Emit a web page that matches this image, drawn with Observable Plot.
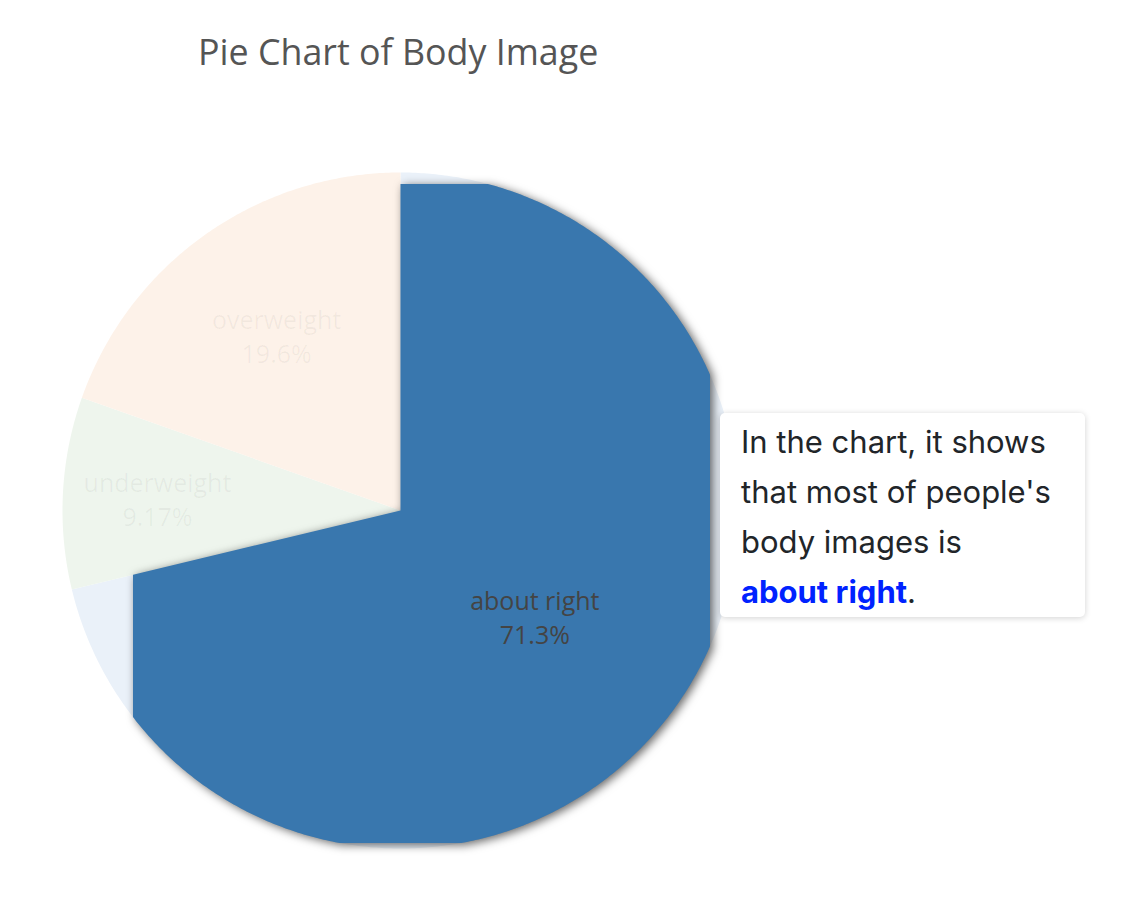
<!DOCTYPE html>
<html><head><meta charset="utf-8">
<script src="https://cdn.jsdelivr.net/npm/d3@7"></script>
<script src="https://cdn.jsdelivr.net/npm/@observablehq/plot@0.6"></script>
<style>
body{margin:0;background:#fff;width:1124px;height:904px;overflow:hidden;position:relative;}
#title{position:absolute;left:198px;top:34px;font-family:"Open Sans";font-size:35.8px;color:#555;line-height:35px;white-space:nowrap}
.layer{position:absolute;left:0;top:0}
#hl svg{filter:drop-shadow(3px 2px 5px rgba(0,0,0,0.6));}
#note{position:absolute;left:720px;top:413px;width:365px;height:204px;box-sizing:border-box;padding:4px 8px 0 21px;background:#fff;border-radius:5px;box-shadow:0 1px 6px rgba(0,0,0,0.18);font-family:Inter;font-size:31px;line-height:50px;color:#212529}
#note b{color:#0022ff;font-weight:700}
.nw{white-space:nowrap}
</style></head>
<body>
<div id="title">Pie Chart of Body Image</div>
<div id="base" class="layer"></div>
<div id="hl" class="layer"></div>
<div id="lab" class="layer"></div>
<div id="note">In the chart, it shows that most of people's body images is <span class="nw"><b>about right</b>.</span></div>
<script>
// ---- data ----
const categories = ["about right", "underweight", "overweight"];
const percents = [71.3, 9.17, 19.6];
const percentLabels = ["71.3%", "9.17%", "19.6%"];
const highlighted = "about right";

// ---- styles ----
const fadedColors = {"about right": "#eaf1f9", "underweight": "#eef5ed", "overweight": "#fdf2e9"};
const highlightColor = "#3977ae";
const labelRadius = {"about right": 0.506, "underweight": 0.72, "overweight": 0.635};

const W = 800, H = 880;
const xScale = {domain: [-1, 1], range: [62, 738], axis: null};
const yScale = {domain: [-1, 1], range: [848, 172], axis: null};

const total = d3.sum(percents);
let cum = 0;
const slices = categories.map((c, i) => {
  const f0 = cum / total; cum += percents[i]; const f1 = cum / total;
  return {category: c, f0, f1, label: c + "\n" + percentLabels[i]};
});

function polygon(s) {
  const pts = [{category: s.category, x: 0, y: 0}];
  const n = Math.max(8, Math.ceil((s.f1 - s.f0) * 720));
  for (let k = 0; k <= n; k++) {
    const a = 2 * Math.PI * (s.f0 + (s.f1 - s.f0) * k / n);
    pts.push({category: s.category, x: Math.sin(a), y: Math.cos(a)});
  }
  pts.push({category: s.category, x: 0, y: 0});
  return pts;
}
const allPts = slices.flatMap(polygon);
const hlPts = allPts.filter(d => d.category === highlighted);

const labels = slices.map(s => {
  const a = 2 * Math.PI * (s.f0 + s.f1) / 2, r = labelRadius[s.category];
  return {...s, x: r * Math.sin(a), y: r * Math.cos(a)};
});

const base = Plot.plot({
  width: W, height: H, margin: 0,
  x: xScale, y: yScale, color: {type: "identity"},
  marks: [
    Plot.line(allPts, {x: "x", y: "y", z: "category", fill: d => fadedColors[d.category], stroke: "none"})
  ]
});
document.getElementById("base").append(base);

const hl = Plot.plot({
  width: W, height: H,
  marginLeft: 133, marginRight: W - 710, marginTop: 184, marginBottom: H - 843,
  x: xScale, y: yScale, color: {type: "identity"},
  marks: [
    Plot.line(hlPts, {x: "x", y: "y", z: "category", fill: highlightColor, stroke: "none", clip: true})
  ]
});
document.getElementById("hl").append(hl);

const lab = Plot.plot({
  width: W, height: H, margin: 0,
  x: xScale, y: yScale,
  marks: [
    Plot.text(labels, {x: "x", y: "y", text: "label", lineAnchor: "middle", lineHeight: 1.36,
      fontSize: 25, fontFamily: "Open Sans",
      fill: "#444", fillOpacity: d => d.category === highlighted ? 1 : 0.06})
  ]
});
[base, hl, lab].forEach(s => s.style.background = "transparent");
document.getElementById("lab").append(lab);
</script>
</body></html>
